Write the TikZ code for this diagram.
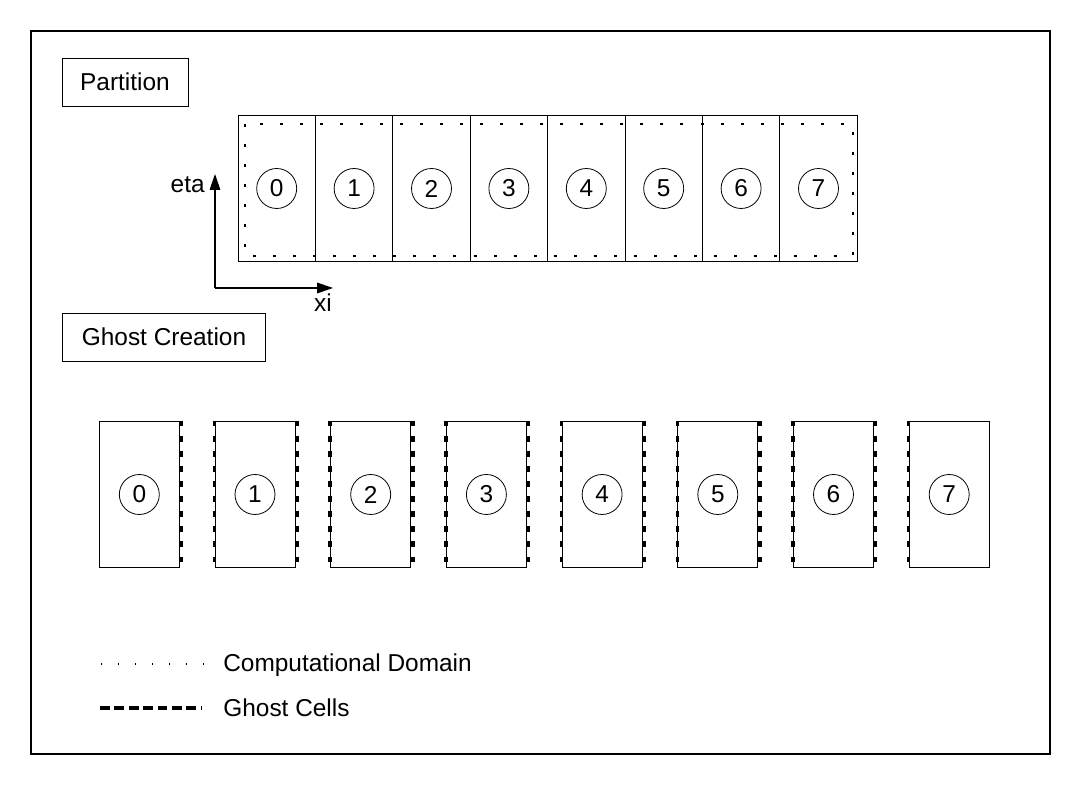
\documentclass[tikz,border=0pt]{standalone}
\usepackage{fontspec}
\setmainfont{Liberation Sans}
\usetikzlibrary{arrows.meta}
\tikzset{
  cellbox/.style={draw,line width=0.55pt,minimum width=1.548cm,minimum height=2.94cm,inner sep=0pt},
  ghostbox/.style={draw,line width=0.55pt,minimum width=1.6cm,minimum height=2.94cm,inner sep=0pt},
  rank/.style={draw,circle,line width=0.45pt,minimum size=0.8cm,inner sep=0pt},
  titlebox/.style={draw,line width=0.55pt,minimum height=0.96cm,inner sep=0pt},
  compdomain/.style={line width=1.2pt,dash pattern=on 1.7pt off 9.7pt},
  ghostline/.style={line width=2pt,dash pattern=on 3.4pt off 5.2pt},
}
\begin{document}
\begin{tikzpicture}[x=0.02cm,y=-0.02cm,font=\fontsize{13.9}{16}\selectfont]
  \useasboundingbox (0,0) rectangle (1080,810);
  \draw[line width=0.85pt] (31,31) rectangle (1050,754);
  % partition
  \node[titlebox,minimum width=2.52cm] (parttitle) at (125,82) {Partition};
  \foreach \i in {0,...,7}{
    \node[cellbox] (p\i) at (276.7+77.4*\i,188.5) {};
    \node[rank] (pr\i) at (p\i) {\i};
  }
  \draw[compdomain] (245,124) rectangle (853,256);
  \coordinate (origin) at (215,288);
  \coordinate (etatip) at (215,174);
  \coordinate (xitip) at (333,288);
  \draw[line width=0.65pt,-{Triangle[length=9pt,width=6pt]}] (origin) -- (etatip);
  \draw[line width=0.65pt,-{Triangle[length=9pt,width=6pt]}] (origin) -- (xitip);
  \node[anchor=east,inner sep=0pt] (eta) at (205,185) {eta};
  \node[inner sep=0pt] (xi) at (323,303) {xi};
  % ghost creation
  \node[titlebox,minimum width=4.08cm] (ghosttitle) at (164,337) {Ghost Creation};
  \foreach \i in {0,...,7}{
    \node[ghostbox] (g\i) at (139.3+115.7*\i,494.5) {};
    \node[rank] (gr\i) at (g\i) {\i};
  }
  \foreach \i in {0,...,6}
    \draw[ghostline] ([xshift=1pt]g\i.north east) -- ([xshift=1pt]g\i.south east);
  \foreach \i in {1,...,7}
    \draw[ghostline] (g\i.north west) -- (g\i.south west);
  % legend
  \coordinate (doma) at (101,664);
  \coordinate (domb) at (205,664);
  \coordinate (ghosta) at (100,708);
  \coordinate (ghostb) at (202,708);
  \draw[line width=0.6pt,dash pattern=on 0.6pt off 9.1pt] (doma) -- (domb);
  \draw[line width=2pt,dash pattern=on 5.6pt off 2.6pt] (ghosta) -- (ghostb);
  \node[anchor=west,inner sep=0pt] (domlabel) at (223,665) {Computational Domain};
  \node[anchor=west,inner sep=0pt] (ghostlabel) at (223,708) {Ghost Cells};
\end{tikzpicture}
\end{document}
